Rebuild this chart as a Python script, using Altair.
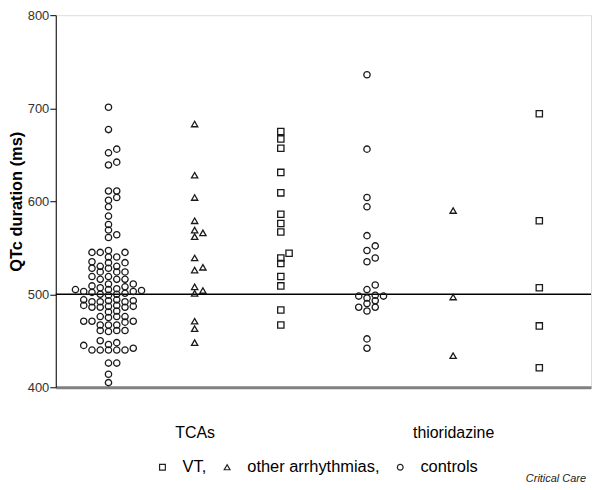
import altair as alt
import pandas as pd

# ---------------- data ----------------
groups = ["TCAs", "thioridazine"]
kinds = ["controls", "other arrhythmias", "VT"]          # left-to-right order in each group
legend_order = ["VT", "other arrhythmias", "controls"]

tca_controls = [701, 677, 656, 652, 642, 639, 611, 611, 604, 601, 594, 584, 575, 569, 564, 561,
                547, 545, 545, 545, 540, 540, 535, 534, 534, 530, 530, 528, 528, 524, 524, 524,
                519, 519, 516, 516, 516, 511, 511,
                509, 508, 507, 506, 505, 505, 504, 503, 503, 502, 501, 500, 500, 499,
                494, 494, 493, 493, 492, 492, 492, 488, 488, 487, 487, 486, 486, 486, 482, 481,
                476, 476, 476, 475, 471, 471, 471, 470, 467, 467, 467, 461, 461, 461, 460,
                450, 448, 446, 445, 442, 440, 440, 440, 440, 440, 426, 426, 414, 405]
tca_other = [683, 628, 604, 579, 566, 562, 569, 539, 529, 526, 508, 501, 504, 471, 463, 448]
tca_vt = [675, 667, 657, 631, 609, 586, 576, 567, 544, 539, 533, 519, 509, 483, 467]
thio_controls = [736, 656, 604, 594, 563, 552, 547, 539, 535, 510, 505, 499, 498, 498, 496,
                 493, 490, 486, 486, 482, 452, 442]
thio_other = [590, 497, 434]
thio_vt = [694, 579, 507, 466, 421]

series = {
    ("TCAs", "controls"): tca_controls,
    ("TCAs", "other arrhythmias"): tca_other,
    ("TCAs", "VT"): tca_vt,
    ("thioridazine", "controls"): thio_controls,
    ("thioridazine", "other arrhythmias"): thio_other,
    ("thioridazine", "VT"): thio_vt,
}

# ---------------- layout constants ----------------
W, H = 538, 374
Y_DOM = [400, 800]
X_DOM = [-0.612, 5.6]
PX_PER_MS = H / (Y_DOM[1] - Y_DOM[0])
PX_PER_UNIT = W / (X_DOM[1] - X_DOM[0])
STEP_PX = 8.3
MIN_DIST = 5.6


def swarm(vals):
    """simple beeswarm: integer horizontal slots so markers do not pile up"""
    placed = []
    out = [0] * len(vals)
    for i in sorted(range(len(vals)), key=lambda j: vals[j]):
        ypx = vals[i] * PX_PER_MS
        chosen = None
        step = 0
        while chosen is None:
            cands = [0] if step == 0 else [step, -step]
            for k in cands:
                if all(not (pk == k and abs(py - ypx) < MIN_DIST) for pk, py in placed):
                    chosen = k
                    break
            step += 1
        placed.append((chosen, ypx))
        out[i] = chosen
    return out


rows = []
for gi, g in enumerate(groups):
    for ki, k in enumerate(kinds):
        vals = series[(g, k)]
        offs = swarm(vals)
        col = gi * 3 + ki
        for v, o in zip(vals, offs):
            rows.append({"group": g, "kind": k, "qtc": v,
                         "x": col + o * STEP_PX / PX_PER_UNIT})
df = pd.DataFrame(rows)

FONT = "Liberation Sans"
group_pos = [1, 4]
label_expr = " : ".join(
    [f"datum.value == {p} ? '{g}'" for p, g in zip(group_pos[:-1], groups[:-1])] + [f"'{groups[-1]}'"]
)

x_enc = alt.X(
    "x:Q",
    scale=alt.Scale(domain=X_DOM, nice=False, zero=False),
    axis=alt.Axis(values=group_pos, labelExpr=label_expr, ticks=False, tickSize=0, grid=False,
                  domainColor="#808080", domainWidth=3, labelPadding=37, labelFontSize=16,
                  labelFont=FONT, labelColor="black", title=None),
)
y_enc = alt.Y(
    "qtc:Q",
    scale=alt.Scale(domain=Y_DOM, nice=False, zero=False),
    axis=alt.Axis(values=[400, 500, 600, 700, 800], title="QTc duration (ms)", grid=False,
                  labelFont=FONT, labelFontSize=13, labelColor="#333333", labelPadding=1,
                  tickColor="black", tickSize=6, domainColor="black", domainWidth=1,
                  titleFont=FONT, titleFontSize=16.5, titleFontWeight="bold", titleColor="black",
                  titlePadding=3),
)

legend_labels = ("datum.label == 'controls' ? 'controls' : datum.label == 'VT' ? 'VT,' : "
                 "'other arrhythmias,                      '")

points = alt.Chart(df).mark_point(filled=False, size=40, strokeWidth=1.3, color="#1a1a1a", opacity=1).encode(
    x=x_enc,
    y=y_enc,
    shape=alt.Shape(
        "kind:N",
        scale=alt.Scale(domain=legend_order, range=["square", "triangle-up", "circle"]),
        legend=alt.Legend(orient="none", legendX=99, legendY=446, direction="horizontal", title=None,
                          labelFont=FONT, labelFontSize=16.5, labelColor="black", symbolSize=34,
                          symbolStrokeWidth=1.2, symbolStrokeColor="#222222", labelOffset=12,
                          columnPadding=12, padding=0, labelExpr=legend_labels, labelLimit=400),
    ),
)

rule = alt.Chart(pd.DataFrame({"qtc": [500]})).mark_rule(color="black", strokeWidth=1.5).encode(y=y_enc)

credit = alt.Chart(pd.DataFrame({"t": ["Critical Care"]})).mark_text(
    align="right", baseline="bottom", font=FONT, fontSize=11, fontStyle="italic", color="#222222"
).encode(text="t:N", x=alt.value(W - 5), y=alt.value(H + 97))

chart = alt.layer(rule, points, credit).properties(
    width=W, height=H, padding={"left": 0, "top": 0, "right": 0, "bottom": 0}
).configure_view(stroke=None).configure(background="white")

chart.save("out.html", embed_options={"renderer": "svg", "actions": False})
